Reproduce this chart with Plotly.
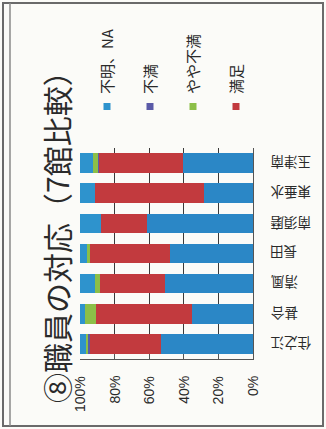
import plotly.graph_objects as go

# Survey results, percent of respondents per branch (bottom to top on the chart)
branches = ["住之江", "甚合", "清風", "長田", "南須磨", "東垂水", "玉津南"]
yaya_manzoku = [53.3, 35.0, 50.6, 48.1, 61.0, 28.5, 40.4]
manzoku = [41.4, 56.0, 37.9, 46.2, 27.1, 62.9, 49.0]
fuman = [0.5, 0.0, 0.0, 0.0, 0.0, 0.0, 0.3]
yaya_fuman = [1.2, 6.1, 2.9, 1.5, 0.0, 0.0, 2.6]
fumei_na = [3.6, 2.9, 8.6, 4.2, 11.9, 8.6, 7.7]

pct_ticks = [0, 20, 40, 60, 80, 100]
pct_labels = ["0%", "20%", "40%", "60%", "80%", "100%"]
title_text = "⑧職員の対応（7館比較）"

# series drawn from the 0% side outward: (name, values, colour)
series = [
    ("やや満足", yaya_manzoku, "#2b87c6"),
    ("満足", manzoku, "#c23a3e"),
    ("不満", fuman, "#5a5aa8"),
    ("やや不満", yaya_fuman, "#8cbf48"),
    ("不明、NA", fumei_na, "#2e93cd"),
]
legend_order = ["不明、NA", "不満", "やや不満", "満足"]

W, H = 326, 429
L, R, T, B = 80, 73, 148, 70
PW, PH = W - L - R, H - T - B
JP = "Noto Sans CJK JP"
LATIN = "Liberation Sans, Noto Sans CJK JP, sans-serif"


def px_x(x):
    return (x - L) / PW


def px_y(y):
    return (H - B - y) / PH


fig = go.Figure()
for name, vals, color in series:
    fig.add_trace(go.Bar(
        y=branches, x=vals, name=name, orientation="h",
        marker=dict(color=color, line=dict(width=0)),
        showlegend=False,
    ))

annotations = [
    dict(text=title_text, textangle=-90, xref="paper", yref="paper",
         x=px_x(56), y=px_y(230), xanchor="center", yanchor="middle",
         showarrow=False, font=dict(family=JP, size=30, color="#2a2a2a")),
]

# category names beside the 0% edge, turned upside down
for b in branches:
    annotations.append(dict(text=b, textangle=180, xref="paper", yref="y",
                            x=px_x(268), y=b, xanchor="left", yanchor="middle",
                            showarrow=False, font=dict(family=JP, size=13.5, color="#2a2a2a")))

# percent labels under the value axis, reading bottom to top
for v, lab in zip(pct_ticks, pct_labels):
    annotations.append(dict(text=lab, textangle=-90, xref="x", yref="paper",
                            x=v, y=px_y(374), xanchor="center", yanchor="top",
                            showarrow=False, font=dict(family=LATIN, size=14, color="#2a2a2a")))

shapes = []
colors = {name: color for name, _, color in series}
for i, name in enumerate(legend_order):
    cx = 107 + i * 43
    shapes.append(dict(type="rect", xref="paper", yref="paper",
                       x0=px_x(cx - 3.5), x1=px_x(cx + 3.5),
                       y0=px_y(110), y1=px_y(103),
                       fillcolor=colors[name], line=dict(width=0)))
    annotations.append(dict(text=name, textangle=-90, xref="paper", yref="paper",
                            x=px_x(cx), y=px_y(96), xanchor="center", yanchor="bottom",
                            showarrow=False,
                            font=dict(family=JP, size=15, color="#2a2a2a")))

# scanned page frame
shapes += [
    dict(type="rect", xref="paper", yref="paper", x0=px_x(3), x1=px_x(323),
         y0=px_y(426), y1=px_y(3), line=dict(color="#6a6a6a", width=2)),
    dict(type="line", xref="paper", yref="paper", x0=px_x(10), x1=px_x(10),
         y0=px_y(426), y1=px_y(3), line=dict(color="#8a8a8a", width=1.5)),
]

fig.update_layout(
    width=W, height=H,
    margin=dict(l=L, r=R, t=T, b=B),
    barmode="stack", bargap=0.35,
    paper_bgcolor="#fbfbf8", plot_bgcolor="#fbfbf8",
    font=dict(family=LATIN, color="#2a2a2a"),
    annotations=annotations, shapes=shapes,
    xaxis=dict(range=[100, 0], tickvals=pct_ticks, showticklabels=False,
               showgrid=True, gridcolor="#3a3a3a", gridwidth=1,
               showline=True, linecolor="#555", linewidth=1,
               ticks="inside", ticklen=5, tickcolor="#555",
               zeroline=False, fixedrange=True),
    yaxis=dict(side="right", showticklabels=False,
               showline=True, linecolor="#555", linewidth=1,
               showgrid=False, ticks="", fixedrange=True),
)

fig.write_html("out.html")
